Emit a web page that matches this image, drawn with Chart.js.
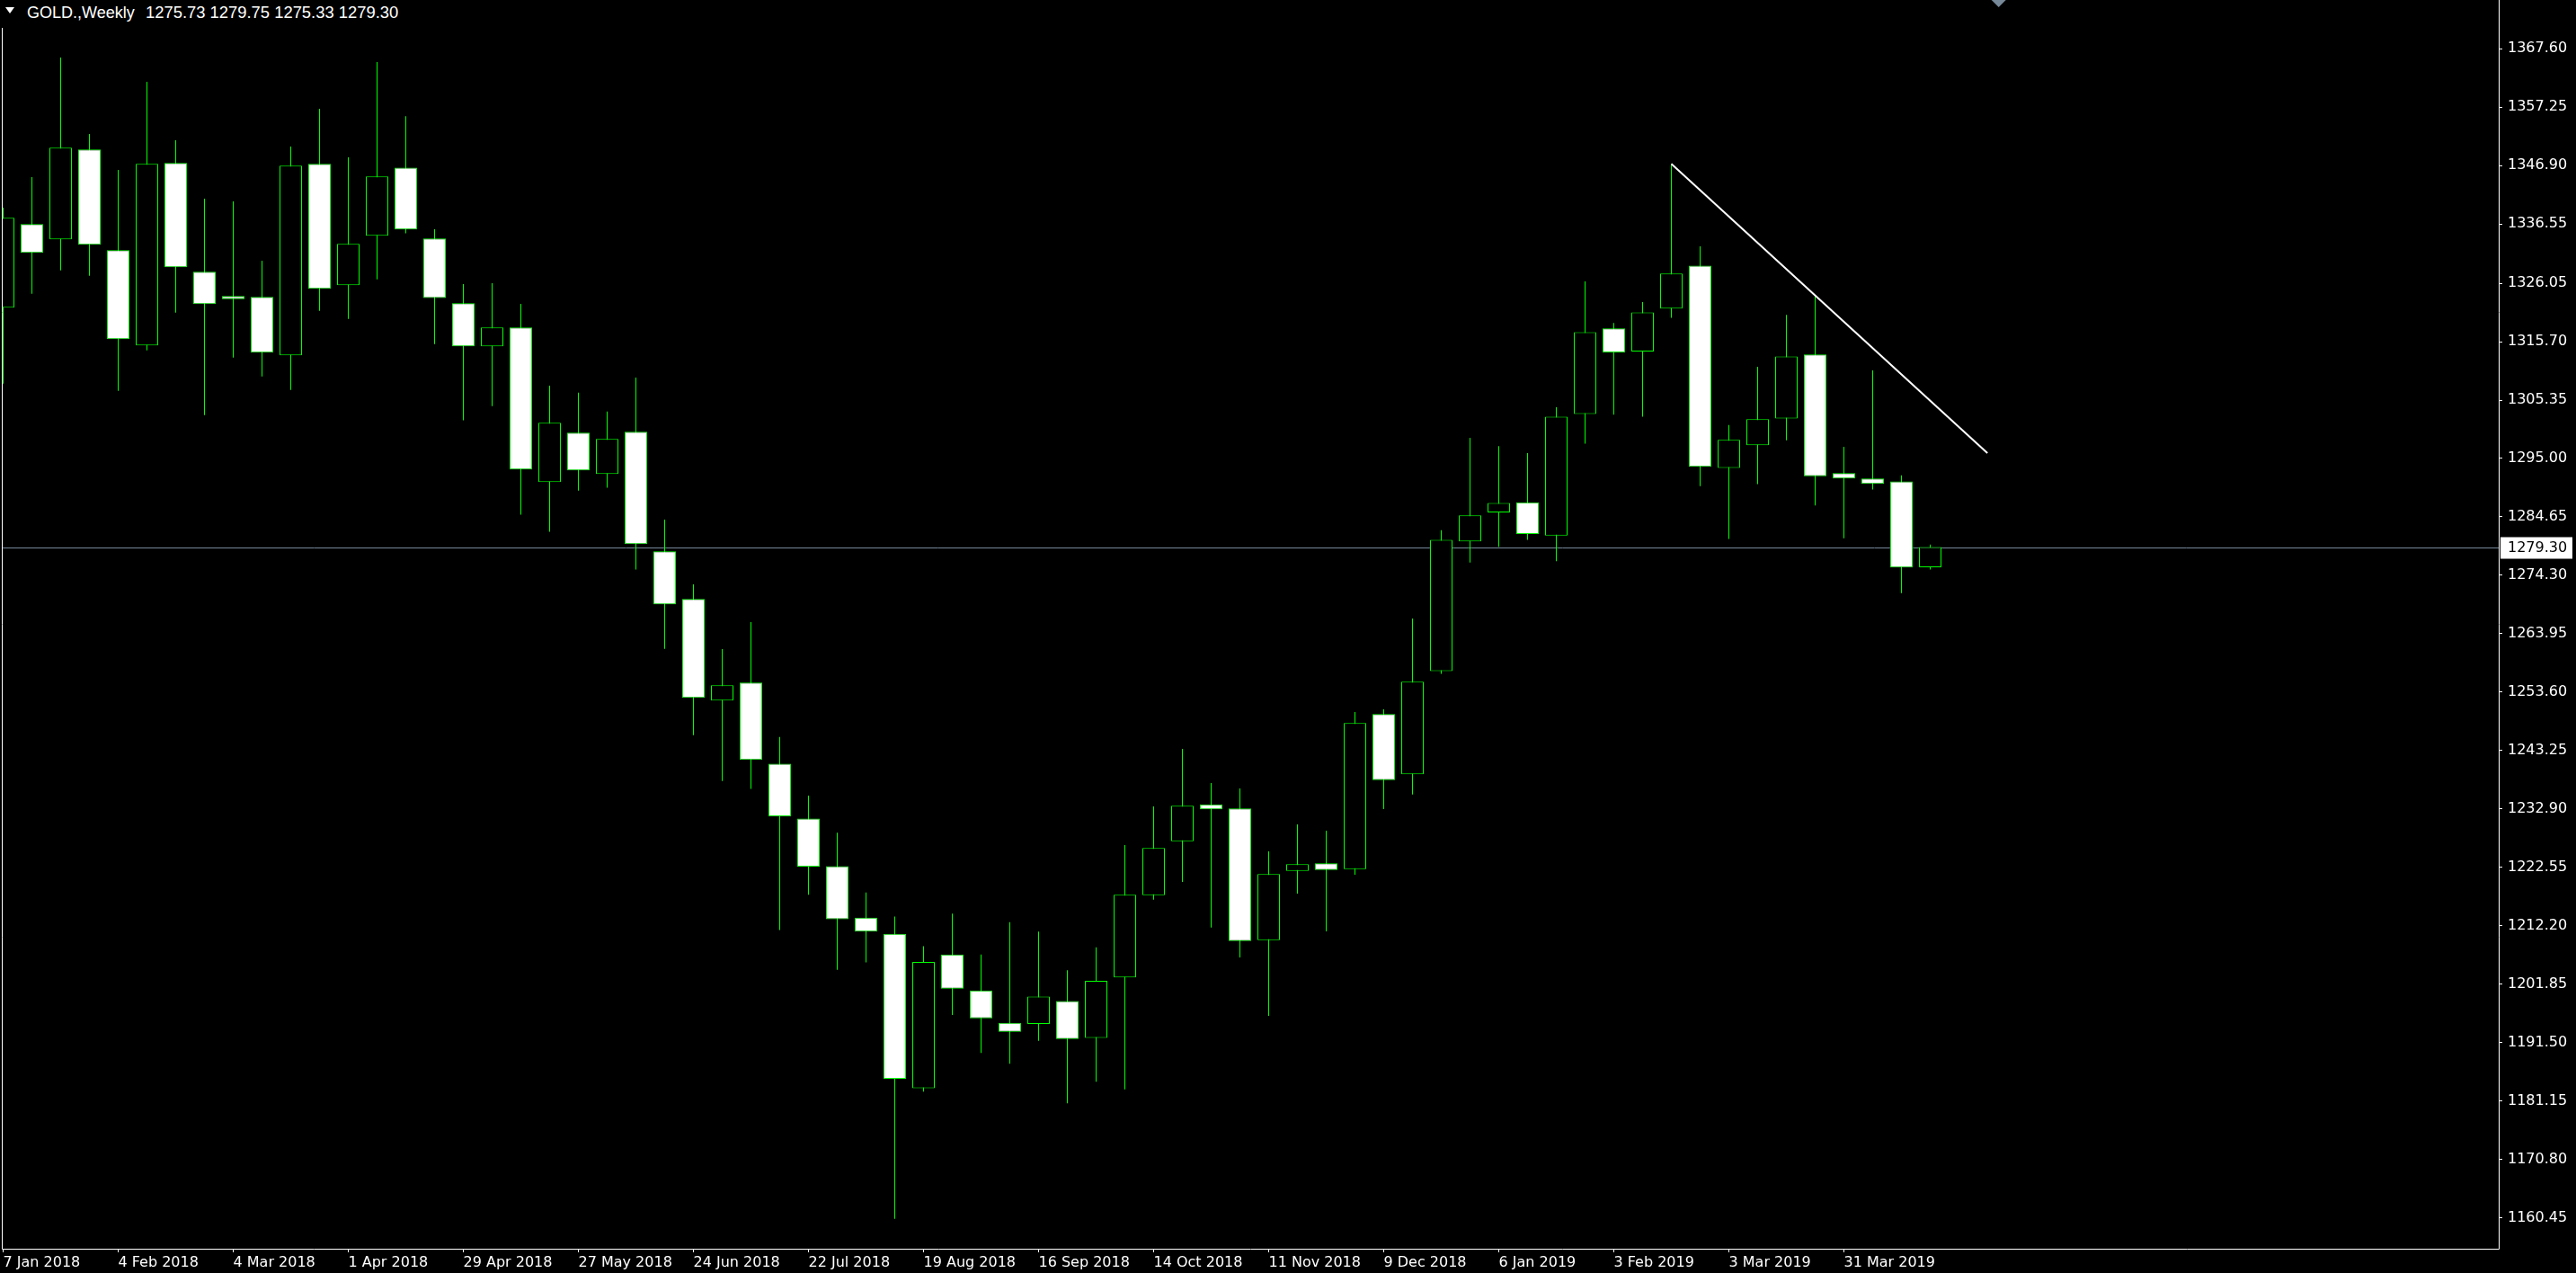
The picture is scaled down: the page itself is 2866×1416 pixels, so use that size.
<!DOCTYPE html>
<html>
<head>
<meta charset="utf-8">
<title>GOLD., Weekly</title>
<script src="https://cdn.jsdelivr.net/npm/chart.js@4.4.1/dist/chart.umd.min.js"></script>
<style>
  html, body { margin: 0; padding: 0; background: #000; overflow: hidden; }
  #wrap { position: relative; width: 2866px; height: 1416px; }
  #chart { display: block; }
  #title { position: absolute; left: 0; top: 0; width: 450px; height: 31px; background: #000; color: #fff;
           font: 18px "Liberation Sans", Arial, sans-serif; line-height: 20px; white-space: pre; }
  #title span { position: absolute; top: 4px; }
  #title .vals { font-size: 18.4px; }
  #title .tri { left: 6px; top: 8px; width: 0; height: 0; border-left: 5px solid transparent;
                border-right: 5px solid transparent; border-top: 7px solid #fff; }
</style>
</head>
<body>
<div id="wrap">
  <canvas id="chart" width="2866" height="1416"></canvas>
  <div id="title"><span class="tri"></span><span style="left:30px">GOLD.,Weekly</span><span class="vals" style="left:162px">1275.73 1279.75 1275.33 1279.30</span></div>
</div>
<script>
// weekly candles, 7 Jan 2018 .. Apr 2019
const opens = [
  1321.71, 1336.52, 1333.81, 1349.74, 1331.90, 1315.02, 1347.35, 1328.08, 1323.78, 1323.62,
  1313.27, 1347.19, 1325.69, 1334.45, 1346.53, 1333.97, 1322.50, 1314.88, 1318.23, 1290.80,
  1299.58, 1292.23, 1299.74, 1278.55, 1270.10, 1252.10, 1255.29, 1240.91, 1231.19, 1222.77,
  1213.64, 1210.77, 1183.41, 1207.10, 1200.75, 1195.00, 1194.81, 1198.87, 1192.33, 1203.04,
  1217.64, 1227.19, 1233.73, 1232.98, 1209.67, 1221.94, 1223.27, 1222.26, 1249.71, 1239.03,
  1257.34, 1280.30, 1285.42, 1287.25, 1281.33, 1302.90, 1318.04, 1313.94, 1321.55, 1329.16,
  1293.32, 1297.34, 1302.10, 1313.43, 1292.39, 1291.44, 1290.94, 1275.73
];
const highs = [
  1339.44, 1344.85, 1366.04, 1352.50, 1346.13, 1361.74, 1351.38, 1341.03, 1340.55, 1330.04,
  1350.27, 1356.96, 1348.36, 1365.24, 1355.64, 1335.61, 1325.91, 1326.07, 1322.39, 1307.91,
  1306.65, 1303.31, 1309.34, 1284.17, 1272.70, 1261.23, 1266.00, 1245.67, 1235.26, 1228.71,
  1218.11, 1213.84, 1208.59, 1214.34, 1207.10, 1212.85, 1211.17, 1204.33, 1208.39, 1226.51,
  1233.35, 1243.55, 1237.49, 1236.54, 1225.39, 1230.17, 1229.05, 1250.08, 1250.56, 1266.64,
  1282.28, 1298.66, 1297.20, 1295.95, 1304.07, 1326.38, 1318.99, 1322.72, 1347.22, 1332.59,
  1300.93, 1311.24, 1320.45, 1323.82, 1297.08, 1310.61, 1292.00, 1279.75
];
const lows = [
  1308.27, 1324.20, 1328.34, 1327.38, 1306.99, 1314.16, 1320.85, 1302.69, 1312.89, 1309.54,
  1307.15, 1321.17, 1319.73, 1326.74, 1334.90, 1315.26, 1301.77, 1304.29, 1285.04, 1282.02,
  1289.32, 1289.81, 1275.33, 1261.28, 1245.99, 1237.87, 1236.45, 1211.46, 1217.71, 1204.42,
  1205.71, 1160.30, 1182.81, 1196.39, 1189.65, 1187.77, 1191.83, 1180.73, 1184.59, 1183.23,
  1216.84, 1219.97, 1211.90, 1206.59, 1196.24, 1217.90, 1211.21, 1221.25, 1232.88, 1235.48,
  1256.83, 1276.57, 1279.35, 1280.60, 1276.79, 1297.64, 1302.76, 1302.39, 1319.94, 1290.10,
  1280.74, 1290.47, 1298.22, 1286.67, 1280.88, 1289.49, 1271.16, 1275.33
];
const closes = [
  1337.64, 1331.42, 1350.06, 1332.86, 1316.13, 1347.19, 1328.88, 1322.35, 1323.24, 1313.74,
  1346.88, 1325.05, 1333.02, 1344.97, 1335.56, 1323.44, 1314.88, 1318.23, 1293.05, 1301.33,
  1292.89, 1298.48, 1279.83, 1269.14, 1252.57, 1254.80, 1241.60, 1231.59, 1222.67, 1213.35,
  1211.17, 1185.09, 1205.81, 1201.05, 1195.80, 1193.42, 1199.67, 1192.13, 1202.44, 1217.69,
  1225.97, 1233.46, 1232.82, 1209.51, 1221.35, 1223.11, 1222.10, 1248.11, 1238.03, 1255.44,
  1280.60, 1284.91, 1287.10, 1281.62, 1302.39, 1317.38, 1313.80, 1320.89, 1327.77, 1293.54,
  1298.29, 1301.95, 1313.07, 1291.86, 1291.44, 1290.49, 1275.69, 1279.30
];

const dateTickIdx = [0, 4, 8, 12, 16, 20, 24, 28, 32, 36, 40, 44, 48, 52, 56, 60, 64];
const dateTicks = [
  '7 Jan 2018', '4 Feb 2018', '4 Mar 2018', '1 Apr 2018', '29 Apr 2018', '27 May 2018',
  '24 Jun 2018', '22 Jul 2018', '19 Aug 2018', '16 Sep 2018', '14 Oct 2018', '11 Nov 2018',
  '9 Dec 2018', '6 Jan 2019', '3 Feb 2019', '3 Mar 2019', '31 Mar 2019'
];
const priceTicks = [
  1367.60, 1357.25, 1346.90, 1336.55, 1326.05, 1315.70, 1305.35, 1295.00, 1284.65, 1274.30,
  1263.95, 1253.60, 1243.25, 1232.90, 1222.55, 1212.20, 1201.85, 1191.50, 1181.15, 1170.80, 1160.45
];
const lastPrice = 1279.30;
const trendLine = [{ x: 58, y: 1347.22 }, { x: 68.99, y: 1295.97 }];
const shiftMarkAt = 69.38;

const LIME = '#00ff00';
const SLATE = '#778899';
const FONT = { family: 'DejaVu Sans', size: 16 };

// 32 px per bar over a 2778 px wide plot
const xMin = -1.5 / 32;
const xMax = xMin + 2778 / 32;
const yMin = 1154.984;
const yMax = 1376.233;

const overlay = {
  id: 'overlay',
  beforeDatasetsDraw(chart) {
    const { ctx, chartArea: a, scales: { y } } = chart;
    const py = Math.round(y.getPixelForValue(lastPrice)) + 0.5;
    ctx.save();
    ctx.strokeStyle = SLATE;
    ctx.lineWidth = 1;
    ctx.beginPath();
    ctx.moveTo(a.left, py);
    ctx.lineTo(a.right, py);
    ctx.stroke();
    ctx.restore();
  },
  afterDraw(chart) {
    const { ctx, chartArea: a, scales: { x, y } } = chart;
    ctx.save();
    // frame
    ctx.strokeStyle = '#fff';
    ctx.lineWidth = 1;
    ctx.beginPath();
    ctx.moveTo(a.left + 0.5, a.top);
    ctx.lineTo(a.left + 0.5, a.bottom + 0.5);
    ctx.lineTo(a.right + 0.5, a.bottom + 0.5);
    ctx.lineTo(a.right + 0.5, a.top);
    ctx.stroke();
    // current price box
    const py = Math.round(y.getPixelForValue(lastPrice)) + 0.5;
    ctx.fillStyle = '#fff';
    ctx.fillRect(a.right + 2, py - 12, 80, 24);
    ctx.fillStyle = '#000';
    ctx.font = FONT.size + 'px "' + FONT.family + '"';
    ctx.textBaseline = 'middle';
    ctx.textAlign = 'left';
    ctx.fillText(lastPrice.toFixed(2), a.right + 10, py);
    // chart shift marker
    const sx = x.getPixelForValue(shiftMarkAt);
    ctx.fillStyle = SLATE;
    ctx.beginPath();
    ctx.moveTo(sx - 8, 0);
    ctx.lineTo(sx + 8, 0);
    ctx.lineTo(sx, 8);
    ctx.closePath();
    ctx.fill();
    ctx.restore();
  }
};

new Chart(document.getElementById('chart').getContext('2d'), {
  type: 'bar',
  data: {
    datasets: [
      {
        label: 'Wick',
        stack: 'candle',
        order: 3,
        data: lows.map((l, i) => ({ x: i, y: [l, highs[i]] })),
        backgroundColor: LIME,
        borderWidth: 0,
        barThickness: 1,
        inflateAmount: 0
      },
      {
        label: 'Body',
        stack: 'candle',
        order: 2,
        data: opens.map((o, i) => ({ x: i, y: [o, closes[i]] })),
        backgroundColor: opens.map((o, i) => closes[i] >= o ? '#000' : '#fff'),
        borderColor: LIME,
        borderWidth: 1,
        borderSkipped: false,
        barThickness: 25,
        inflateAmount: 0
      },
      {
        type: 'line',
        label: 'Trend',
        order: 1,
        data: trendLine,
        borderColor: '#fff',
        borderWidth: 2,
        pointRadius: 0,
        fill: false
      }
    ]
  },
  options: {
    responsive: false,
    animation: false,
    devicePixelRatio: 1,
    layout: { autoPadding: false, padding: { left: 2, top: 0, right: 0, bottom: 0 } },
    plugins: { legend: { display: false }, tooltip: { enabled: false } },
    scales: {
      x: {
        type: 'linear',
        position: 'bottom',
        min: xMin,
        max: xMax,
        offset: false,
        grid: { offset: false, drawOnChartArea: false, drawTicks: true, tickLength: 4, color: '#fff' },
        border: { display: false },
        afterBuildTicks: s => { s.ticks = dateTickIdx.map(v => ({ value: v })); },
        afterFit: s => { s.height = 27; s.paddingLeft = 0; s.paddingRight = 0; },
        ticks: {
          color: '#fff', font: FONT, align: 'start', padding: 2, maxRotation: 0, autoSkip: false,
          callback: v => dateTicks[dateTickIdx.indexOf(v)]
        }
      },
      y: {
        type: 'linear',
        position: 'right',
        min: yMin,
        max: yMax,
        stacked: false,
        grid: { drawOnChartArea: false, drawTicks: true, tickLength: 4, color: '#fff' },
        border: { display: false },
        afterBuildTicks: s => { s.ticks = priceTicks.map(v => ({ value: v })); },
        afterFit: s => { s.width = 86; s.paddingTop = 0; s.paddingBottom = 0; },
        ticks: { color: '#fff', font: FONT, padding: 6, autoSkip: false, callback: v => v.toFixed(2) }
      }
    }
  },
  plugins: [overlay]
});
</script>
</body>
</html>
